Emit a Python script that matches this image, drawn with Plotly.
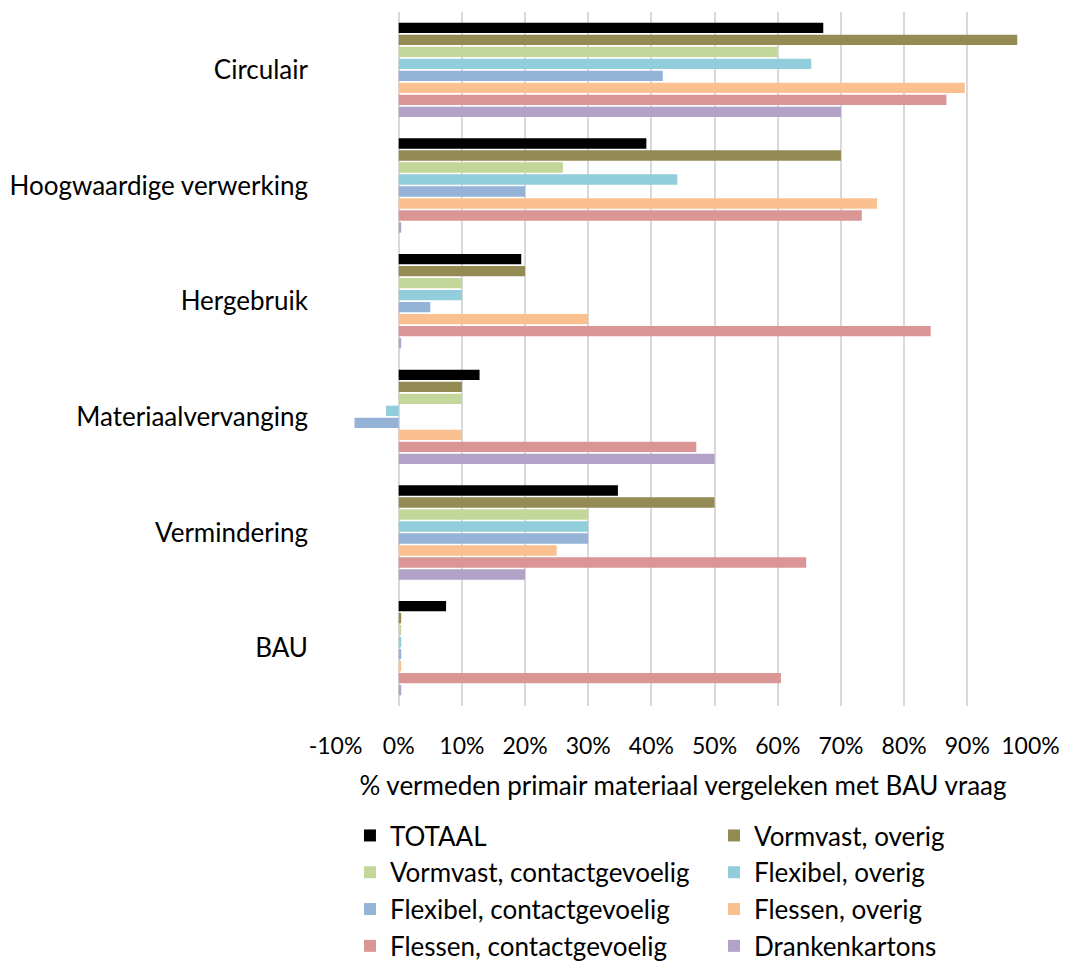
import plotly.graph_objects as go

categories = ["Circulair", "Hoogwaardige verwerking", "Hergebruik",
              "Materiaalvervanging", "Vermindering", "BAU"]

series_names = ["TOTAAL", "Vormvast, overig", "Vormvast, contactgevoelig",
                "Flexibel, overig", "Flexibel, contactgevoelig", "Flessen, overig",
                "Flessen, contactgevoelig", "Drankenkartons"]

totaal = [0.672, 0.392, 0.194, 0.128, 0.347, 0.075]
vormvast_overig = [0.979, 0.70, 0.20, 0.10, 0.50, 0.004]
vormvast_contact = [0.60, 0.26, 0.10, 0.10, 0.30, 0.004]
flexibel_overig = [0.653, 0.441, 0.10, -0.02, 0.30, 0.004]
flexibel_contact = [0.418, 0.20, 0.05, -0.07, 0.30, 0.004]
flessen_overig = [0.896, 0.757, 0.30, 0.10, 0.25, 0.004]
flessen_contact = [0.867, 0.733, 0.842, 0.471, 0.645, 0.605]
drankenkartons = [0.70, 0.004, 0.004, 0.50, 0.20, 0.004]

tick_values = [-0.1, 0.0, 0.1, 0.2, 0.3, 0.4, 0.5, 0.6, 0.7, 0.8, 0.9, 1.0]
tick_labels = ["-10%", "0%", "10%", "20%", "30%", "40%", "50%",
               "60%", "70%", "80%", "90%", "100%"]

values = [totaal, vormvast_overig, vormvast_contact, flexibel_overig,
          flexibel_contact, flessen_overig, flessen_contact, drankenkartons]

colors = ["#000000", "#948A54", "#C4D79B", "#92CDDC",
          "#95B3D7", "#FAC090", "#DA9694", "#B3A2C7"]

FONT = "Lato"
fig = go.Figure()
for i, (name, vals, col) in enumerate(zip(series_names, values, colors)):
    fig.add_trace(go.Bar(
        y=categories, x=vals, name=name, orientation="h",
        marker=dict(color=col, line=dict(width=0)),
        legend="legend" if i % 2 == 0 else "legend2",
        legendgroup=name,
    ))

# two legend columns, filled row by row across them
legend_common = dict(
    xref="container", xanchor="left",
    yref="container", y=0.1585, yanchor="top", orientation="v",
    traceorder="normal", tracegroupgap=9, font=dict(size=26),
    itemwidth=30, bgcolor="rgba(0,0,0,0)",
)

fig.update_layout(
    width=1065, height=965,
    margin=dict(l=335, r=34, t=12, b=259, autoexpand=False),
    paper_bgcolor="white", plot_bgcolor="white",
    barmode="group", bargap=0.17, bargroupgap=0.14,
    font=dict(family=FONT, size=25, color="#000000"),
    xaxis=dict(
        range=[-0.1008, 1.0008], tickvals=tick_values, ticktext=tick_labels,
        showgrid=True, gridcolor="#D9D9D9", gridwidth=1.5,
        zeroline=True, zerolinecolor="#D9D9D9", zerolinewidth=1.5,
        showline=False, ticks="", ticklabelstandoff=24,
        tickfont=dict(size=23),
        title=dict(text="% vermeden primair materiaal vergeleken met BAU vraag",
                   font=dict(size=26), standoff=18),
        automargin=False,
    ),
    yaxis=dict(
        autorange="reversed", showgrid=False, showline=False, ticks="",
        ticklabelstandoff=26, tickfont=dict(size=26), automargin=False,
    ),
    legend=dict(x=0.3286, **legend_common),
    legend2=dict(x=0.6704, **legend_common),
)

fig.write_html("out.html")
